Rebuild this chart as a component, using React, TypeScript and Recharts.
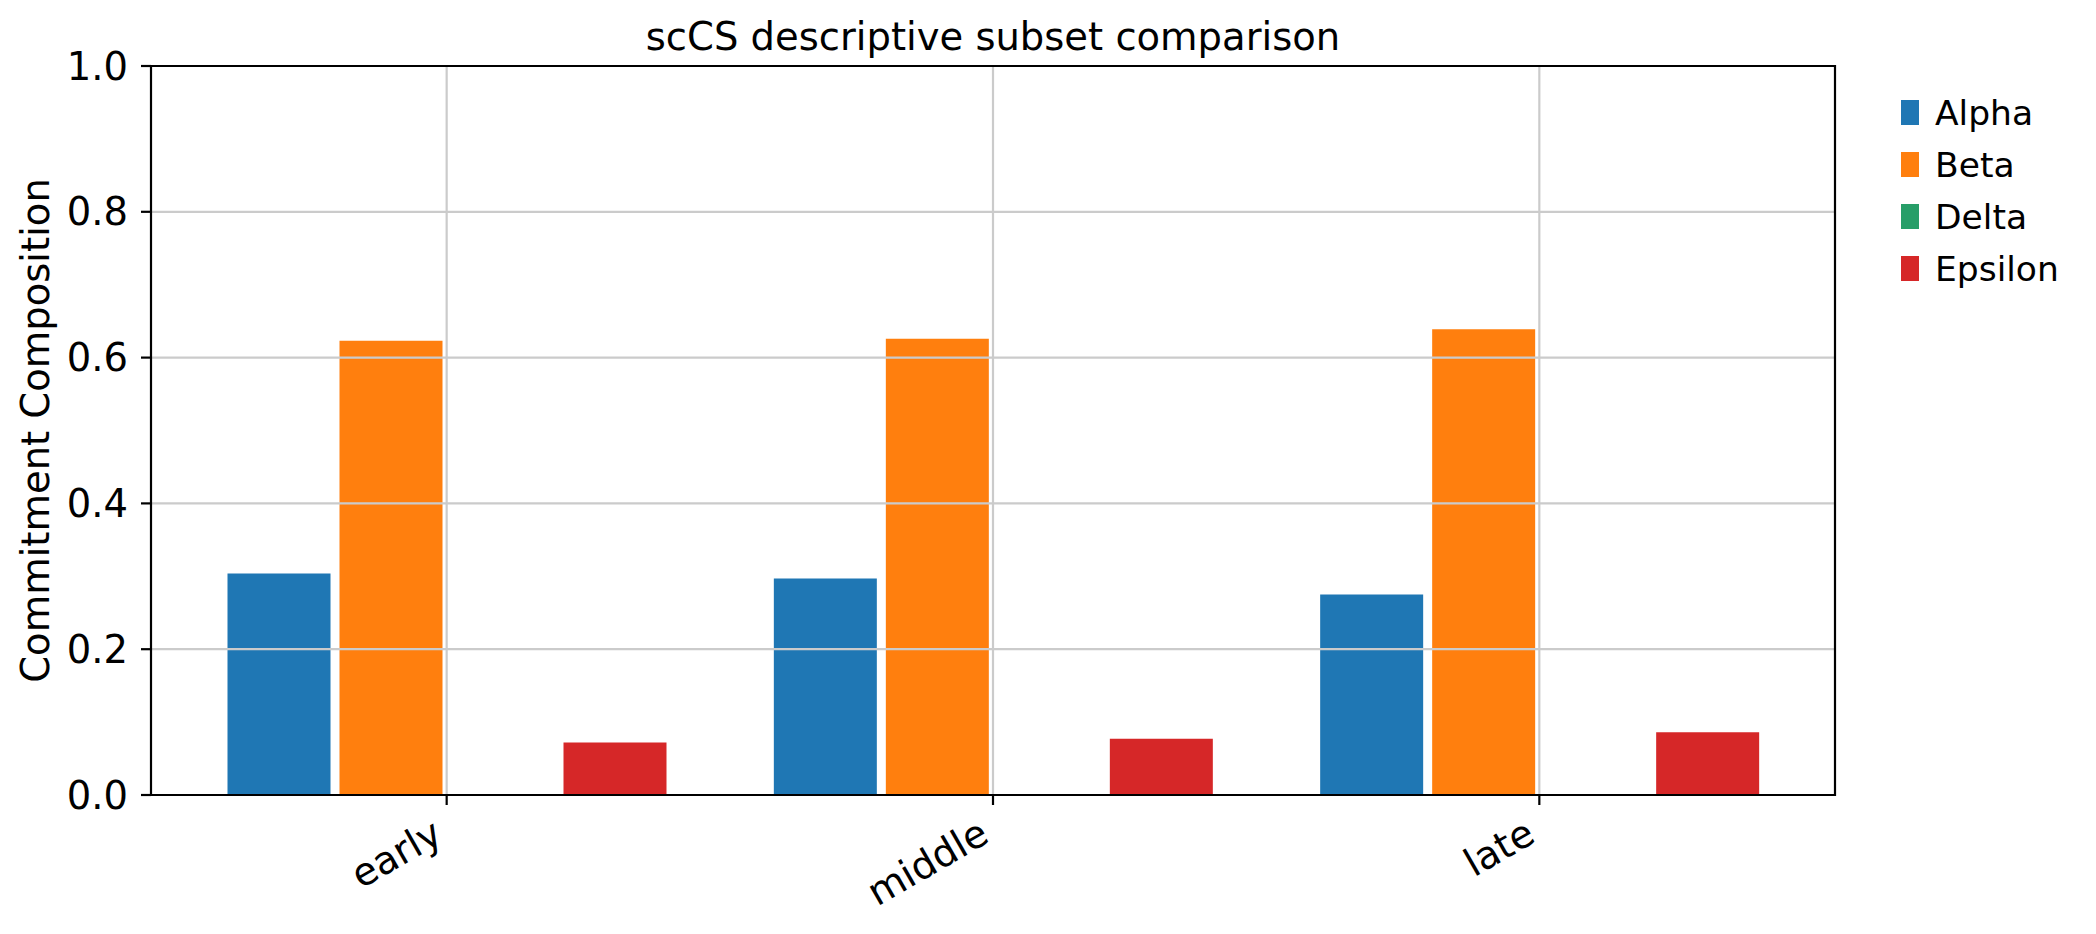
import { BarChart, Bar, XAxis, YAxis, ReferenceLine } from 'recharts'

const stages = ['early', 'middle', 'late']
const alpha = [0.304, 0.297, 0.275]
const beta = [0.623, 0.626, 0.639]
const delta = [0, 0, 0]
const epsilon = [0.072, 0.077, 0.086]
const yTicks = [0, 0.2, 0.4, 0.6, 0.8, 1.0]

const seriesList = [
  { key: 'Alpha', values: alpha, color: '#1f77b4' },
  { key: 'Beta', values: beta, color: '#ff7f0e' },
  { key: 'Delta', values: delta, color: '#279e68' },
  { key: 'Epsilon', values: epsilon, color: '#d62728' },
]

const rows = stages.map((stage, i) => {
  const row: Record<string, string | number> = { stage }
  seriesList.forEach((s) => {
    row[s.key] = s.values[i]
  })
  return row
})

const FONT = '"DejaVu Sans", sans-serif'
const GRID = '#cbcbcb'
const SPINE = { stroke: '#000', strokeWidth: 2.2 }
const W = 2096
const H = 934

// rotated category labels, right end pinned just left of the tick
function StageTick(props: any) {
  const { x, y, payload } = props
  const tx = x - 2
  const ty = y + 36
  return (
    <text
      x={tx}
      y={ty}
      textAnchor="end"
      transform={`rotate(-30, ${tx}, ${ty})`}
      fontSize={38.5}
      fontFamily={FONT}
      fill="#000"
    >
      {payload.value}
    </text>
  )
}

export default function App() {
  return (
    <div style={{ position: 'absolute', left: 0, top: 0, width: W, height: H, background: '#fff' }}>
      <BarChart
        width={W}
        height={H}
        data={rows}
        margin={{ top: 66, right: 261, bottom: 0, left: 0 }}
        barSize={103}
        barGap={9}
      >
        <XAxis
          dataKey="stage"
          height={139}
          padding={{ left: 22.5, right: 22.5 }}
          tick={<StageTick />}
          tickSize={10}
          tickMargin={0}
          axisLine={SPINE}
          tickLine={SPINE}
          interval={0}
        />
        <YAxis
          width={151}
          domain={[0, 1]}
          ticks={yTicks}
          tickFormatter={(v: number) => v.toFixed(1)}
          tick={{ fontSize: 38.5, fontFamily: FONT, fill: '#000' }}
          tickSize={10}
          tickMargin={13}
          axisLine={SPINE}
          tickLine={SPINE}
          label={{
            content: ({ viewBox }: any) => {
              const cy = viewBox.y + viewBox.height / 2
              return (
                <text
                  x={49}
                  y={cy}
                  textAnchor="middle"
                  transform={`rotate(-90, 49, ${cy})`}
                  fontSize={38.5}
                  fontFamily={FONT}
                  fill="#000"
                >
                  Commitment Composition
                </text>
              )
            },
          }}
        />
        {seriesList.map((s) => (
          <Bar key={s.key} dataKey={s.key} fill={s.color} isAnimationActive={false} />
        ))}
        {yTicks.slice(1, -1).map((t) => (
          <ReferenceLine key={t} y={t} stroke={GRID} strokeWidth={2.2} />
        ))}
        {stages.map((st) => (
          <ReferenceLine key={st} x={st} stroke={GRID} strokeWidth={2.2} />
        ))}
        {/* top spine */}
        <ReferenceLine y={1} stroke="#000" strokeWidth={2.2} />
      </BarChart>

      {/* right spine, title and legend */}
      <svg
        width={W}
        height={H}
        style={{ position: 'absolute', left: 0, top: 0, pointerEvents: 'none' }}
      >
        <line x1={1835} y1={64.9} x2={1835} y2={796.1} stroke="#000" strokeWidth={2.2} />
        <text x={993} y={50} textAnchor="middle" fontSize={38.5} fontFamily={FONT} fill="#000">
          scCS descriptive subset comparison
        </text>
        {seriesList.map((s, i) => (
          <g key={s.key}>
            <rect x={1901} y={100 + i * 52} width={18} height={25} fill={s.color} />
            <text x={1935} y={125 + i * 52} fontSize={34.5} fontFamily={FONT} fill="#000">
              {s.key}
            </text>
          </g>
        ))}
      </svg>
    </div>
  )
}
